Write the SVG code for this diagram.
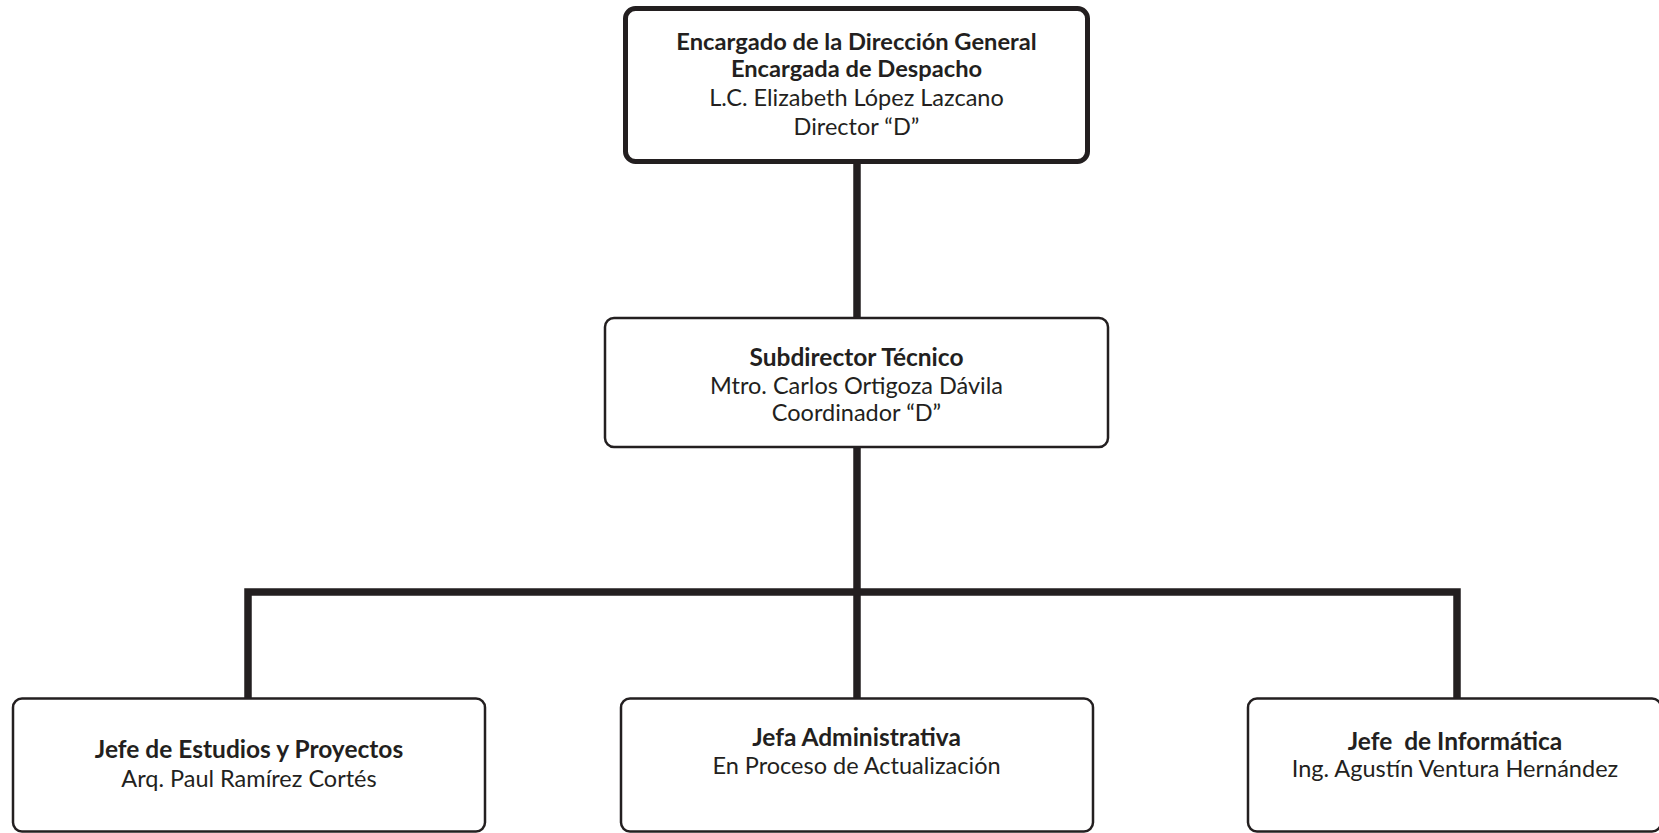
<svg xmlns="http://www.w3.org/2000/svg" width="1659" height="833" viewBox="0 0 1659 833">
<style>
text{font-family:Lato,"Open Sans","Liberation Sans",sans-serif;font-size:23.5px;fill:#231f20;text-anchor:middle}
.b{font-weight:bold;font-size:24.5px}
.bt{font-size:23.7px}
.box{fill:#fff;stroke:#231f20;stroke-width:2.5}
.top{fill:#fff;stroke:#231f20;stroke-width:5}
.ln{fill:none;stroke:#231f20;stroke-width:7.5}
</style>
<rect width="1659" height="833" fill="#fff"/>
<g id="connectors">
<line class="ln" x1="857" y1="160" x2="857" y2="319"/>
<line class="ln" x1="857" y1="446" x2="857" y2="699"/>
<polyline class="ln" points="248,699 248,592 1457,592 1457,699"/>
</g>
<g id="n-director">
<rect class="top" x="625.5" y="8.5" width="462" height="153" rx="10"/>
<text class="b bt" x="856.5" y="50">Encargado de la Dirección General</text>
<text class="b bt" x="856.5" y="77">Encargada de Despacho</text>
<text x="856.5" y="106">L.C. Elizabeth López Lazcano</text>
<text x="856.5" y="135">Director “D”</text>
</g>
<g id="n-subdirector">
<rect class="box" x="605" y="318" width="503" height="129" rx="9"/>
<text class="b" x="856.5" y="366">Subdirector Técnico</text>
<text x="856.5" y="394">Mtro. Carlos Ortigoza Dávila</text>
<text x="856.5" y="421">Coordinador “D”</text>
</g>
<g id="n-estudios">
<rect class="box" x="13" y="698.5" width="472" height="133" rx="9"/>
<text class="b" x="249" y="758">Jefe de Estudios y Proyectos</text>
<text x="249" y="787">Arq. Paul Ramírez Cortés</text>
</g>
<g id="n-administrativa">
<rect class="box" x="621" y="698.5" width="472" height="133" rx="9"/>
<text class="b" x="856.5" y="746">Jefa Administrativa</text>
<text x="856.5" y="774">En Proceso de Actualización</text>
</g>
<g id="n-informatica">
<rect class="box" x="1248" y="698.5" width="413" height="133" rx="9"/>
<text class="b" x="1455" y="750" xml:space="preserve">Jefe  de Informática</text>
<text x="1455" y="777">Ing. Agustín Ventura Hernández</text>
</g>
</svg>
